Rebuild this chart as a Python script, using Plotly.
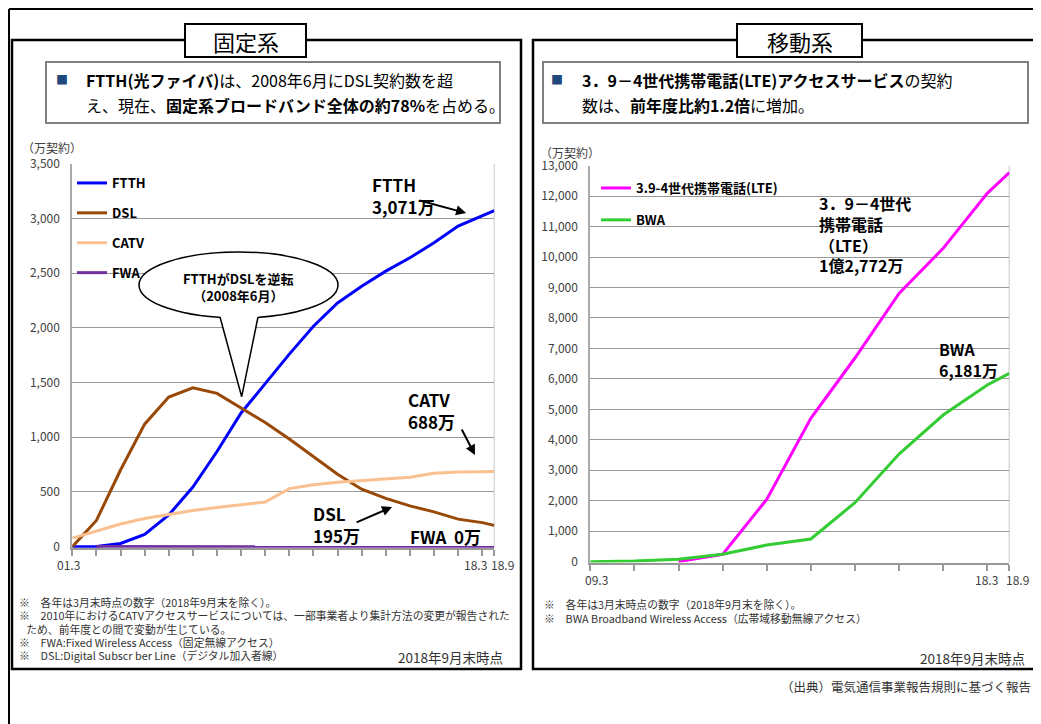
import plotly.graph_objects as go

# ---- data (万契約) ----
years_fixed = [2001, 2002, 2003, 2004, 2005, 2006, 2007, 2008, 2009, 2010,
               2011, 2012, 2013, 2014, 2015, 2016, 2017, 2018, 2018.5]
ftth = [0, 2, 30, 113, 290, 545, 870, 1222, 1490, 1760, 2015, 2228, 2380,
        2518, 2640, 2778, 2930, 3025, 3071]
dsl = [0, 240, 701, 1120, 1368, 1452, 1401, 1271, 1135, 985, 820, 662, 525,
       442, 373, 318, 252, 220, 195]
catv = [78, 140, 207, 258, 297, 330, 359, 382, 409, 531, 567, 590, 603,
        620, 635, 671, 683, 686, 688]
fwa = [None, 1, 1, 1, 1, 1, 1, 1, 1, 1, 1, 1, 0.5, 0.5, 0.5, 0.4, 0.3, 0.2, 0.2]

years_mobile = [2009, 2010, 2011, 2012, 2013, 2014, 2015, 2016, 2017, 2018, 2018.5]
lte = [None, None, 3, 241, 2046, 4705, 6685, 8807, 10284, 12090, 12772]
bwa = [0, 22, 77, 241, 547, 744, 1937, 3534, 4814, 5799, 6181]

# x tick labels: (year, label, pixel shift)
xlabels_fixed = [(2001, "01.3", -4), (2018, "18.3", -7), (2018.5, "18.9", 8)]
xlabels_mobile = [(2009, "09.3", 6), (2018, "18.3", -1), (2018.5, "18.9", 8)]

# page has an 8px body margin; positions below are in window pixels
OFF = 8
W, H = 1041 - OFF, 724 - OFF
FONT = "Noto Sans CJK JP"


def px(x):
    return (x - OFF) / W


def py(y):
    return 1 - (y - OFF) / H


fig = go.Figure()

fig.add_trace(go.Scatter(x=years_fixed, y=ftth, mode="lines", name="FTTH",
                         line=dict(color="#0000ff", width=3), xaxis="x", yaxis="y",
                         legend="legend", legendgroup="a"))
fig.add_trace(go.Scatter(x=years_fixed, y=dsl, mode="lines", name="DSL",
                         line=dict(color="#984807", width=3), xaxis="x", yaxis="y",
                         legend="legend", legendgroup="b"))
fig.add_trace(go.Scatter(x=years_fixed, y=catv, mode="lines", name="CATV",
                         line=dict(color="#fac090", width=3), xaxis="x", yaxis="y",
                         legend="legend", legendgroup="c"))
fig.add_trace(go.Scatter(x=years_fixed, y=fwa, mode="lines", name="FWA",
                         line=dict(color="#7030a0", width=3), xaxis="x", yaxis="y",
                         legend="legend", legendgroup="d"))

fig.add_trace(go.Scatter(x=years_mobile, y=lte, mode="lines", name="3.9-4世代携帯電話(LTE)",
                         line=dict(color="#ff00ff", width=3), xaxis="x2", yaxis="y2",
                         legend="legend2", legendgroup="e"))
fig.add_trace(go.Scatter(x=years_mobile, y=bwa, mode="lines", name="BWA",
                         line=dict(color="#33cc33", width=3), xaxis="x2", yaxis="y2",
                         legend="legend2", legendgroup="f"))

tickfont = dict(family=FONT, size=12, color="#404040")
grid = "#999999"

fig.update_layout(
    width=W, height=H,
    margin=dict(l=0, r=0, t=0, b=0, pad=0, autoexpand=False),
    paper_bgcolor="white", plot_bgcolor="white",
    font=dict(family=FONT, color="black"),
    xaxis=dict(domain=[px(72.3), px(494.3)], range=[2001, 2018.5], anchor="y",
               tickvals=years_fixed, showticklabels=False, ticks="outside",
               ticklen=6, tickcolor="#999999", tickwidth=1.5, showline=True,
               linecolor="#999999", linewidth=2, showgrid=False, zeroline=False,
               layer="below traces", automargin=False),
    yaxis=dict(domain=[py(547.8), py(163.7)], range=[-10, 3500], anchor="x",
               tickvals=[0, 500, 1000, 1500, 2000, 2500, 3000, 3500],
               tickformat=",", showgrid=True, gridcolor=grid, gridwidth=1,
               showline=True, linecolor="#aaaaaa", linewidth=2, zeroline=False,
               ticks="", ticklabelstandoff=8, automargin=False,
               layer="below traces", tickfont=tickfont),
    xaxis2=dict(domain=[px(590.3), px(1009.3)], range=[2009, 2018.5], anchor="y2",
                tickvals=years_mobile, showticklabels=False, ticks="outside",
                ticklen=6, tickcolor="#999999", tickwidth=1.5, showline=True,
                linecolor="#999999", linewidth=2, showgrid=False, zeroline=False,
                layer="below traces", automargin=False),
    yaxis2=dict(domain=[py(562.6), py(165.6)], range=[-30, 13000], anchor="x2",
                tickvals=list(range(0, 13001, 1000)), tickformat=",",
                showgrid=True, gridcolor=grid, gridwidth=1, showline=True,
                linecolor="#aaaaaa", linewidth=2, zeroline=False, ticks="",
                ticklabelstandoff=8, automargin=False, layer="below traces",
                tickfont=tickfont),
    legend=dict(x=px(72), y=py(168), xanchor="left", yanchor="top",
                bgcolor="rgba(0,0,0,0)", font=dict(family=FONT, size=13, weight="bold"),
                tracegroupgap=10, itemwidth=30, traceorder="grouped"),
    legend2=dict(x=px(596), y=py(173), xanchor="left", yanchor="top",
                 bgcolor="rgba(0,0,0,0)", font=dict(family=FONT, size=13, weight="bold"),
                 tracegroupgap=12, itemwidth=30, traceorder="grouped"),
)

shapes = []
# outer frame (left and top edges, as close to the page edge as the figure allows)
shapes.append(dict(type="line", xref="paper", yref="paper", x0=px(9), x1=px(9),
                   y0=py(9), y1=0, line=dict(color="black", width=2)))
shapes.append(dict(type="line", xref="paper", yref="paper", x0=px(9), x1=1,
                   y0=py(9), y1=py(9), line=dict(color="black", width=2)))
for x0, x1 in [(12, 521), (533, 1038)]:
    shapes.append(dict(type="rect", xref="paper", yref="paper", x0=px(x0), x1=px(x1),
                       y0=py(40), y1=py(669), line=dict(color="black", width=2.5)))
# tabs
for x0, x1 in [(185, 306), (737, 862)]:
    shapes.append(dict(type="rect", xref="paper", yref="paper", x0=px(x0), x1=px(x1),
                       y0=py(24), y1=py(57), fillcolor="white",
                       line=dict(color="black", width=2)))
# header boxes
for x0, x1 in [(46, 500), (543, 1028)]:
    shapes.append(dict(type="rect", xref="paper", yref="paper", x0=px(x0), x1=px(x1),
                       y0=py(62), y1=py(123), line=dict(color="#808080", width=2)))
# plot right borders
for xr, yr in [("x domain", "y domain"), ("x2 domain", "y2 domain")]:
    shapes.append(dict(type="line", xref=xr, yref=yr, x0=1, x1=1, y0=0, y1=1,
                       line=dict(color="#d9d9d9", width=1.5), layer="below"))
# callout bubble
shapes.append(dict(type="circle", xref="paper", yref="paper", x0=px(139), x1=px(338),
                   y0=py(252), y1=py(318), fillcolor="white",
                   line=dict(color="black", width=1.5)))
shapes.append(dict(type="path", xref="paper", yref="paper",
                   path="M %f,%f L %f,%f L %f,%f Z" % (px(218.5), py(311), px(241.7), py(396),
                                                     px(259.5), py(311)),
                   fillcolor="white", line=dict(width=0)))
shapes.append(dict(type="path", xref="paper", yref="paper",
                   path="M %f,%f L %f,%f L %f,%f" % (px(220), py(317), px(241.7), py(396.7),
                                                   px(258), py(317)),
                   line=dict(color="black", width=1.5)))
fig.update_layout(shapes=shapes)


def txt(x, y, text, size=12, bold=False, color="black", xanchor="left", align="left"):
    fig.add_annotation(x=px(x), y=py(y), xref="paper", yref="paper", text=text,
                       showarrow=False, xanchor=xanchor, yanchor="middle", align=align,
                       font=dict(family=FONT, size=size, color=color,
                                 weight="bold" if bold else "normal"))


# x-axis labels
for xref, ypix, labels in [("x", 564, xlabels_fixed), ("x2", 579, xlabels_mobile)]:
    for yr, lab, shift in labels:
        fig.add_annotation(x=yr, y=py(ypix), xref=xref, yref="paper", text=lab,
                           showarrow=False, xanchor="center", yanchor="middle",
                           xshift=shift, font=tickfont)

# tabs and headers
txt(246, 41, "固定系", size=22, xanchor="center")
txt(800, 41, "移動系", size=22, xanchor="center")
txt(62, 79, "■", size=12, color="#1f497d", xanchor="center")
txt(84, 80, "<b>FTTH(光ファイバ)</b>は、2008年6月にDSL契約数を超", size=16)
txt(84, 105, "え、現在、<b>固定系ブロードバンド全体の約78%</b>を占める。", size=16)
txt(557, 79, "■", size=12, color="#1f497d", xanchor="center")
txt(580, 80, "<b>3．9－4世代携帯電話(LTE)アクセスサービス</b>の契約", size=16)
txt(580, 105, "数は、<b>前年度比約1.2倍</b>に増加。", size=16)

# axis unit labels
txt(20, 148, "（万契約）", size=12, color="#404040")
txt(538, 152, "（万契約）", size=12, color="#404040")

# value labels
txt(370, 195, "FTTH<br>3,071万", size=17, bold=True)
txt(406, 410, "CATV<br>688万", size=17, bold=True)
txt(311, 524, "DSL<br>195万", size=17, bold=True)
txt(408, 536, "FWA\u00a0\u00a00万", size=17, bold=True)
txt(817, 234, "3．9－4世代<br>携帯電話<br>（LTE）<br>1億2,772万", size=16, bold=True)
txt(937, 360, "BWA<br>6,181万", size=16, bold=True)
txt(238.5, 287, "FTTHがDSLを逆転<br>（2008年6月）", size=13, bold=True, xanchor="center",
    align="center")

# arrows
for x, y, ax, ay in [(2017.33, 3049, -48, -13), (2017.70, 838, -14, -27),
                     (2014.26, 363, -37, 16)]:
    fig.add_annotation(x=x, y=y, xref="x", yref="y", ax=ax, ay=ay, text="",
                       showarrow=True, arrowhead=2, arrowsize=1, arrowwidth=2,
                       arrowcolor="black")

# footnotes
notes_left = [
    "※　各年は3月末時点の数字（2018年9月末を除く）。",
    "※　2010年におけるCATVアクセスサービスについては、一部事業者より集計方法の変更が報告された",
    "\u00a0\u00a0\u00a0ため、前年度との間で変動が生じている。",
    "※　FWA:Fixed Wireless Access（固定無線アクセス）",
    "※　DSL:Digital Subscr ber Line（デジタル加入者線）",
]
for i, t in enumerate(notes_left):
    txt(17, 602 + i * 13.3, t, size=10.8, color="#333333")
notes_right = [
    "※　各年は3月末時点の数字（2018年9月末を除く）。",
    "※　BWA Broadband Wireless Access（広帯域移動無線アクセス）",
]
for i, t in enumerate(notes_right):
    txt(542, 604 + i * 14.3, t, size=10.8, color="#333333")
txt(505, 657, "2018年9月末時点", size=13.5, color="#333333", xanchor="right", align="right")
txt(1027, 658, "2018年9月末時点", size=13.5, color="#333333", xanchor="right", align="right")
txt(1033, 686, "（出典）電気通信事業報告規則に基づく報告", size=12.5, color="#333333",
    xanchor="right", align="right")

fig.write_html("out.html")
